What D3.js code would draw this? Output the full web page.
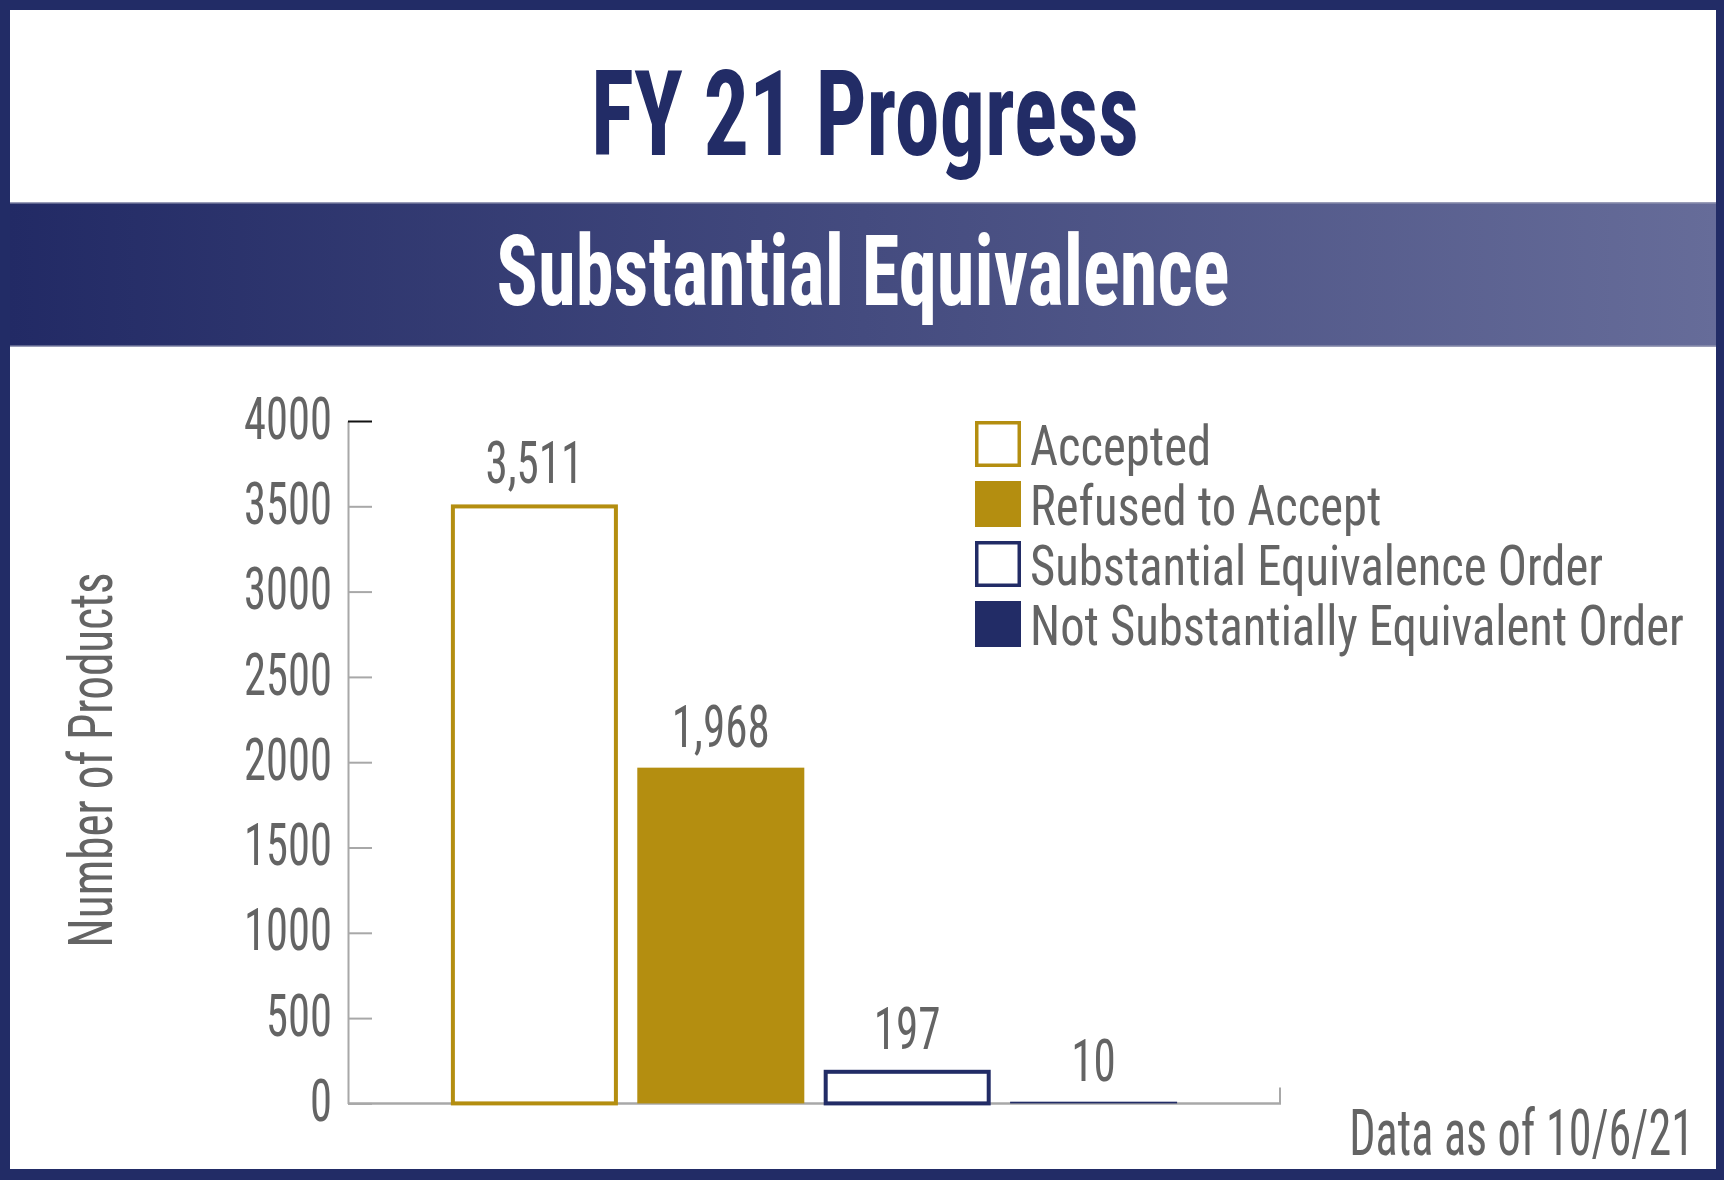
<!DOCTYPE html>
<html>
<head>
<meta charset="utf-8">
<script src="https://cdn.jsdelivr.net/npm/d3@7"></script>
<style>
  html, body { margin: 0; padding: 0; background: #fff; }
  svg { display: block; }
</style>
</head>
<body>
<div id="chart"></div>
<script>
// --------------- Data ---------------
const categories = ["Accepted", "Refused to Accept", "Substantial Equivalence Order", "Not Substantially Equivalent Order"];
const counts = [3511, 1968, 197, 10];
const yTicks = [0, 500, 1000, 1500, 2000, 2500, 3000, 3500, 4000];

// --------------- Look ---------------
const WIDTH = 1724;
const HEIGHT = 1180;
const NAVY = "#222c66";
const GOLD = "#b48e10";
const GREY_TEXT = "#646464";
const AXIS_GREY = "#a8a8a8";
const FONT = "'Liberation Sans Narrow', 'Arial Narrow', 'Roboto Condensed', 'Liberation Sans', sans-serif";
const barColor = [GOLD, GOLD, NAVY, NAVY];
const barSolid = [false, true, false, true];

const svg = d3
  .select("#chart")
  .append("svg")
  .attr("width", WIDTH)
  .attr("height", HEIGHT);

// text helpers: the original uses a very condensed face, so squeeze glyphs
function styleText(sel, size, weight, fill) {
  return sel
    .attr("font-family", FONT)
    .attr("font-size", size)
    .attr("font-weight", weight)
    .attr("fill", fill);
}

// scale text horizontally so that refText would measure refWidth px
function squeeze(sel, refText, refWidth) {
  const n = sel.node();
  const probe = svg
    .append("text")
    .attr("font-family", FONT)
    .attr("font-size", n.getAttribute("font-size"))
    .attr("font-weight", n.getAttribute("font-weight"))
    .text(refText);
  const k = refWidth / probe.node().getComputedTextLength();
  probe.remove();
  sel.each(function () {
    const t = d3.select(this);
    const x0 = +t.attr("x") || 0;
    const y0 = +t.attr("y") || 0;
    const pre = t.attr("transform") || "";
    t.attr("x", 0)
      .attr("y", 0)
      .attr("transform", `${pre} translate(${x0},${y0}) scale(${k},1)`);
  });
}

// --------------- Frame & header ---------------
svg.append("rect").attr("width", WIDTH).attr("height", HEIGHT).attr("fill", NAVY);
svg.append("rect").attr("x", 10).attr("y", 10).attr("width", 1706).attr("height", 1159).attr("fill", "#fff");

const grad = svg.append("defs").append("linearGradient").attr("id", "band");
grad.append("stop").attr("offset", "0%").attr("stop-color", "#222a65");
grad.append("stop").attr("offset", "100%").attr("stop-color", "#666c99");

svg.append("rect").attr("x", 10).attr("y", 202).attr("width", 1706).attr("height", 145).attr("fill", "url(#band)");
svg.append("rect").attr("x", 10).attr("y", 202).attr("width", 1706).attr("height", 1.5).attr("fill", "#9a9db8");
svg.append("rect").attr("x", 10).attr("y", 345.5).attr("width", 1706).attr("height", 1.5).attr("fill", "#9a9db8");

const title = styleText(svg.append("text"), 118, "bold", NAVY)
  .attr("x", 865).attr("y", 155).attr("text-anchor", "middle")
  .text("FY 21 Progress");
squeeze(title, "FY 21 Progress", 548);

const subtitle = styleText(svg.append("text"), 98, "bold", "#fff")
  .attr("x", 863).attr("y", 305).attr("text-anchor", "middle")
  .text("Substantial Equivalence");
squeeze(subtitle, "Substantial Equivalence", 733);

// --------------- Scales ---------------
const x = d3
  .scaleBand()
  .domain(categories)
  .range([348, 1280])
  .paddingInner(0.104)
  .paddingOuter(0.552);

const y = d3.scaleLinear().domain([0, 4000]).range([1103.4, 421]);

// --------------- Axes ---------------
const yAxis = svg
  .append("g")
  .attr("transform", "translate(348,0)")
  .call(
    d3.axisLeft(y)
      .tickValues(yTicks)
      .tickFormat(d3.format("d"))
      .tickSizeInner(-24)
      .tickSizeOuter(0)
      .tickPadding(16)
  );
yAxis.select(".domain").attr("stroke", AXIS_GREY).attr("stroke-width", 2);
yAxis.selectAll(".tick line")
  .attr("stroke", d => (d === 4000 ? "#111" : AXIS_GREY))
  .attr("stroke-width", 2);
const tickText = styleText(yAxis.selectAll(".tick text"), 60, "normal", GREY_TEXT).attr("dy", "0.285em");
squeeze(tickText, "3000", 88);

// baseline of the category axis
svg.append("line")
  .attr("x1", 348).attr("x2", 1281)
  .attr("y1", y(0)).attr("y2", y(0))
  .attr("stroke", AXIS_GREY).attr("stroke-width", 2.5);
svg.append("line")
  .attr("x1", 1280).attr("x2", 1280)
  .attr("y1", y(0)).attr("y2", y(0) - 16)
  .attr("stroke", AXIS_GREY).attr("stroke-width", 2);

const yTitle = styleText(svg.append("text"), 61, "normal", GREY_TEXT)
  .attr("text-anchor", "middle")
  .attr("transform", "translate(112,760) rotate(-90)")
  .text("Number of Products");
squeeze(yTitle, "Number of Products", 375);

// --------------- Bars ---------------
const SW = 4;
svg.append("g")
  .selectAll("rect")
  .data(counts)
  .enter()
  .append("rect")
  .attr("x", (d, i) => x(categories[i]) + (barSolid[i] ? 0 : SW / 2))
  .attr("width", (d, i) => x.bandwidth() - (barSolid[i] ? 0 : SW))
  .attr("y", (d, i) => y(d) + (barSolid[i] ? 0 : SW / 2))
  .attr("height", (d, i) => Math.max(0, y(0) - y(d) - (barSolid[i] ? 0 : SW / 2)))
  .attr("fill", (d, i) => (barSolid[i] ? barColor[i] : "#fff"))
  .attr("stroke", (d, i) => (barSolid[i] ? "none" : barColor[i]))
  .attr("stroke-width", SW);

const values = styleText(
  svg.append("g")
    .selectAll("text")
    .data(counts)
    .enter()
    .append("text"),
  59, "normal", GREY_TEXT
)
  .attr("x", (d, i) => x(categories[i]) + x.bandwidth() / 2)
  .attr("y", d => y(d) - 21)
  .attr("text-anchor", "middle")
  .text(d3.format(","));
squeeze(values, "1,968", 98);

// --------------- Legend ---------------
const legend = svg
  .append("g")
  .selectAll("g")
  .data(categories)
  .enter()
  .append("g")
  .attr("transform", (d, i) => `translate(975,${421 + i * 60})`);

legend.append("rect")
  .attr("x", (d, i) => (barSolid[i] ? 0 : 1.75))
  .attr("y", (d, i) => (barSolid[i] ? 0 : 1.75))
  .attr("width", (d, i) => (barSolid[i] ? 46 : 42.5))
  .attr("height", (d, i) => (barSolid[i] ? 46 : 42.5))
  .attr("fill", (d, i) => (barSolid[i] ? barColor[i] : "#fff"))
  .attr("stroke", (d, i) => (barSolid[i] ? "none" : barColor[i]))
  .attr("stroke-width", 3.5);

const legendText = styleText(legend.append("text"), 56, "normal", GREY_TEXT)
  .attr("x", 55)
  .attr("y", 44)
  .text(d => d);
squeeze(legendText, "Not Substantially Equivalent Order", 654);

// --------------- Footnote ---------------
const note = styleText(svg.append("text"), 64, "normal", GREY_TEXT)
  .attr("x", 1694).attr("y", 1155).attr("text-anchor", "end")
  .text("Data as of 10/6/21");
squeeze(note, "Data as of 10/6/21", 345);
</script>
</body>
</html>
